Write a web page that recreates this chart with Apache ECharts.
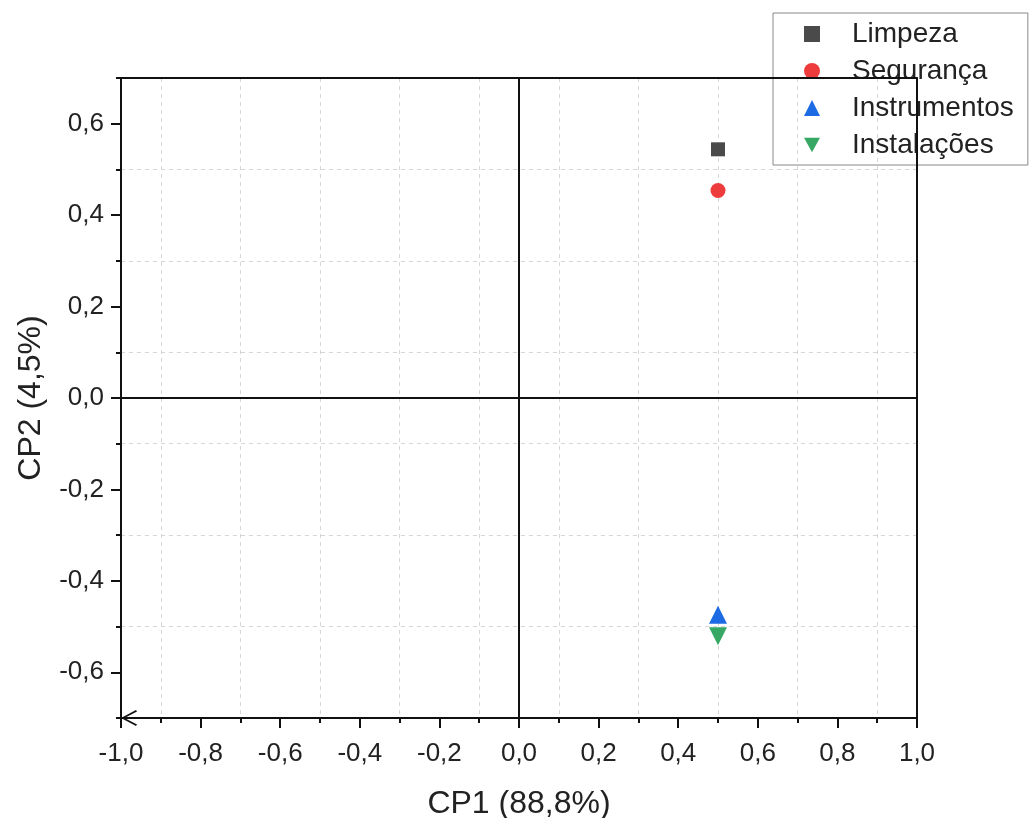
<!DOCTYPE html>
<html><head><meta charset="utf-8">
<script src="https://cdn.jsdelivr.net/npm/echarts@6/dist/echarts.min.js"></script>
<style>html,body{margin:0;padding:0;background:#fff}#c{width:1031px;height:818px}</style>
</head><body><div id="c"></div>
<script>
const seriesNames = ['Limpeza', 'Segurança', 'Instrumentos', 'Instalações'];
const cp1Values = [0.50, 0.50, 0.50, 0.50];
const cp2Values = [0.544, 0.454, -0.474, -0.521];
const yTickLabels = [-0.6, -0.4, -0.2, 0.0, 0.2, 0.4, 0.6];
const xTitle = 'CP1 (88,8%)';
const yTitle = 'CP2 (4,5%)';

const symbols = ['rect', 'circle', 'triangle', 'triangle'];
const symbolRotations = [0, 0, 0, 180];
const symbolSizes = [14, 15, 18, 18];
const colors = ['#4a4a4a', '#ee3b3b', '#1d6ae5', '#36a863'];

const fmt = v => (Math.abs(v) < 1e-9 ? 0 : v).toFixed(1).replace('.', ',');
const font = 'Liberation Sans, Arial, sans-serif';
const ink = '#111';
const txt = '#222';
const gridCol = '#d6d6d6';

const series = seriesNames.map((n, i) => ({
  name: n, type: 'scatter',
  data: [[cp1Values[i], cp2Values[i]]],
  symbol: symbols[i], symbolRotate: symbolRotations[i], symbolSize: symbolSizes[i],
  itemStyle: { color: colors[i], opacity: 1 },
  z: 5
}));
series.push({
  type: 'scatter', data: [], silent: true,
  markLine: {
    silent: true, symbol: 'none', animation: false,
    label: { show: false },
    lineStyle: { color: ink, width: 2, type: 'solid' },
    data: [{ xAxis: 0 }, { yAxis: 0 }]
  }
});

const chevron = 'path://M0,0 L8,15 L6.6,16 L0,3.5 L-6.6,16 L-8,15 Z';
const downTri = 'path://M0,0 L10,0 L5,9 Z';
const frameAxis = {
  type: 'value', axisLine: { show: true, onZero: false, lineStyle: { color: ink, width: 2 } },
  axisTick: { show: false }, axisLabel: { show: false }, splitLine: { show: false }, z: 4
};

const chart = echarts.init(document.getElementById('c'));
chart.setOption({
  animation: false,
  grid: { left: 121, right: 114, top: 78, bottom: 100, containLabel: false, outerBoundsMode: 'none' },
  xAxis: [{
    type: 'value', min: -1, max: 1, interval: 0.2,
    name: xTitle, nameLocation: 'middle', nameGap: 70,
    nameTextStyle: { fontSize: 32, color: txt, fontFamily: font },
    axisLine: { show: true, onZero: false, lineStyle: { color: ink, width: 2 }, symbol: [chevron, 'none'], symbolSize: [16, 16], symbolOffset: [8, 0] },
    axisTick: { show: true, length: 10, lineStyle: { color: ink, width: 2 } },
    minorTick: { show: true, splitNumber: 2, length: 5, lineStyle: { color: ink, width: 2 } },
    splitLine: { show: false },
    minorSplitLine: { show: true, lineStyle: { color: gridCol, type: [4, 4], width: 1 } },
    axisLabel: { formatter: fmt, fontSize: 26, color: txt, fontFamily: font, margin: 23 },
    z: 4
  }, Object.assign({}, frameAxis, { position: 'top', min: -1, max: 1 })],
  yAxis: [{
    type: 'value', min: -0.7, max: 0.7, interval: 0.1,
    name: yTitle, nameLocation: 'middle', nameGap: 74, nameRotate: 90,
    nameTextStyle: { fontSize: 32, color: txt, fontFamily: font },
    axisLine: { show: true, onZero: false, lineStyle: { color: ink, width: 2 } },
    axisTick: { show: true, length: 10, customValues: yTickLabels, lineStyle: { color: ink, width: 2 } },
    splitLine: { show: false },
    axisLabel: { customValues: yTickLabels, formatter: fmt, fontSize: 26, color: txt, fontFamily: font, margin: 17 },
    z: 4
  }, {
    type: 'value', min: -0.7, max: 0.7, interval: 0.2, position: 'left',
    axisLine: { show: false, onZero: false },
    axisTick: { show: true, length: 5, lineStyle: { color: ink, width: 2 } },
    axisLabel: { show: false },
    splitLine: { show: true, lineStyle: { color: gridCol, type: [4, 4], width: 1 } },
    z: 1
  }, Object.assign({}, frameAxis, { position: 'right', min: -0.7, max: 0.7 })],
  legend: {
    orient: 'vertical', left: 773, top: 13,
    data: seriesNames.map((n, i) => i === 3 ? { name: n, icon: downTri } : { name: n }),
    backgroundColor: '#fff',
    borderColor: '#888', borderWidth: 1,
    padding: [7, 14, 6, 31], itemGap: 9,
    itemWidth: 16, itemHeight: 16,
    textStyle: { fontSize: 28, color: txt, fontFamily: font, padding: [0, 0, 0, 27] }
  },
  series
});
</script></body></html>
